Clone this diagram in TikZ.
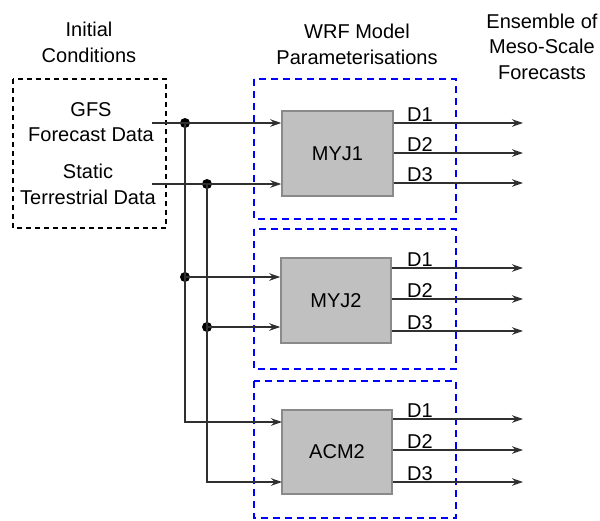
\documentclass[tikz,border=0pt]{standalone}
\usepackage{fontspec}
\setmainfont{Liberation Sans}
\usetikzlibrary{arrows.meta}
\definecolor{lineclr}{HTML}{303030}
\definecolor{boxfill}{HTML}{C0C0C0}
\definecolor{boxedge}{HTML}{8A8A8A}
\begin{document}
\begin{tikzpicture}[x=1pt,y=-1pt,
  lbl/.style={align=center,font=\fontsize{20}{25.5}\selectfont,inner sep=0pt},
  dlbl/.style={anchor=base,font=\fontsize{20}{24}\selectfont,inner sep=0pt},
  model/.style={draw=boxedge,line width=1.5pt,fill=boxfill,minimum width=110pt,minimum height=85pt,inner sep=0pt,font=\fontsize{20}{24}\selectfont},
  conn/.style={draw=lineclr,line width=1.3pt},
  arr/.style={conn,-{Stealth[length=11pt,width=7.5pt]}},
  grp/.style={draw=blue,line width=2.8pt,dash pattern=on 7pt off 5pt},
  icbox/.style={draw=black,line width=2pt,dash pattern=on 5pt off 4pt},
  dot/.style={circle,fill=black,minimum size=10pt,inner sep=0pt}
]
\useasboundingbox (0,0) rectangle (600,520);

% headings
\node[lbl] (hic) at (89,42.5) {Initial\\Conditions};
\node[lbl] (hwrf) at (357,44.5) {WRF Model\\Parameterisations};
\node[lbl] (hens) at (542,46.5) {Ensemble of\\Meso-Scale\\Forecasts};

% initial conditions box
\draw[icbox] (13,79) rectangle (166,228);
\node[lbl] (gfs) at (91,122) {GFS\\Forecast Data};
\node[lbl] (std) at (88,184.5) {Static\\Terrestrial Data};

% parameterisation groups
\draw[grp] (254,79) rectangle (456,219);
\draw[grp] (254,229) rectangle (456,369);
\draw[grp] (254,381) rectangle (456,518);

% models
\node[model,minimum width=111pt] (m1) at (337.5,153.5) {MYJ1};
\node[model] (m2) at (336,300.5) {MYJ2};
\node[model,minimum height=84pt] (m3) at (337,452) {ACM2};

% inputs
\coordinate (s1) at (152,123);
\coordinate (s2) at (152,184);
\node[dot] (d1) at (185,123) {};
\node[dot] (d2) at (207,184) {};
\node[dot] (d3) at (185,277) {};
\node[dot] (d4) at (207,327) {};
\coordinate (a1) at (282,422);
\coordinate (a2) at (282,482);

\draw[arr] (s1) -- (m1.west |- s1);
\draw[arr] (s2) -- (m1.west |- s2);
\draw[arr] (d3.center) -- (m2.west |- d3);
\draw[arr] (d4.center) -- (m2.west |- d4);
\draw[arr] (d1.center) |- (a1);
\draw[arr] (d2.center) |- (a2);

% outputs
\foreach \m/\ya/\yb/\yc in {m1/123/153/183, m2/268/299/331, m3/419/450/482}{
  \coordinate (\m o1) at (523,\ya);
  \coordinate (\m o2) at (523,\yb);
  \coordinate (\m o3) at (523,\yc);
  \draw[arr] (\m.east |- \m o1) -- (\m o1);
  \draw[arr] (\m.east |- \m o2) -- (\m o2);
  \draw[arr] (\m.east |- \m o3) -- (\m o3);
  \node[dlbl] (\m l1) at (420,\ya-1.8) {D1};
  \node[dlbl] (\m l2) at (420,\yb-1.8) {D2};
  \node[dlbl] (\m l3) at (420,\yc-1.8) {D3};
}
\end{tikzpicture}
\end{document}
